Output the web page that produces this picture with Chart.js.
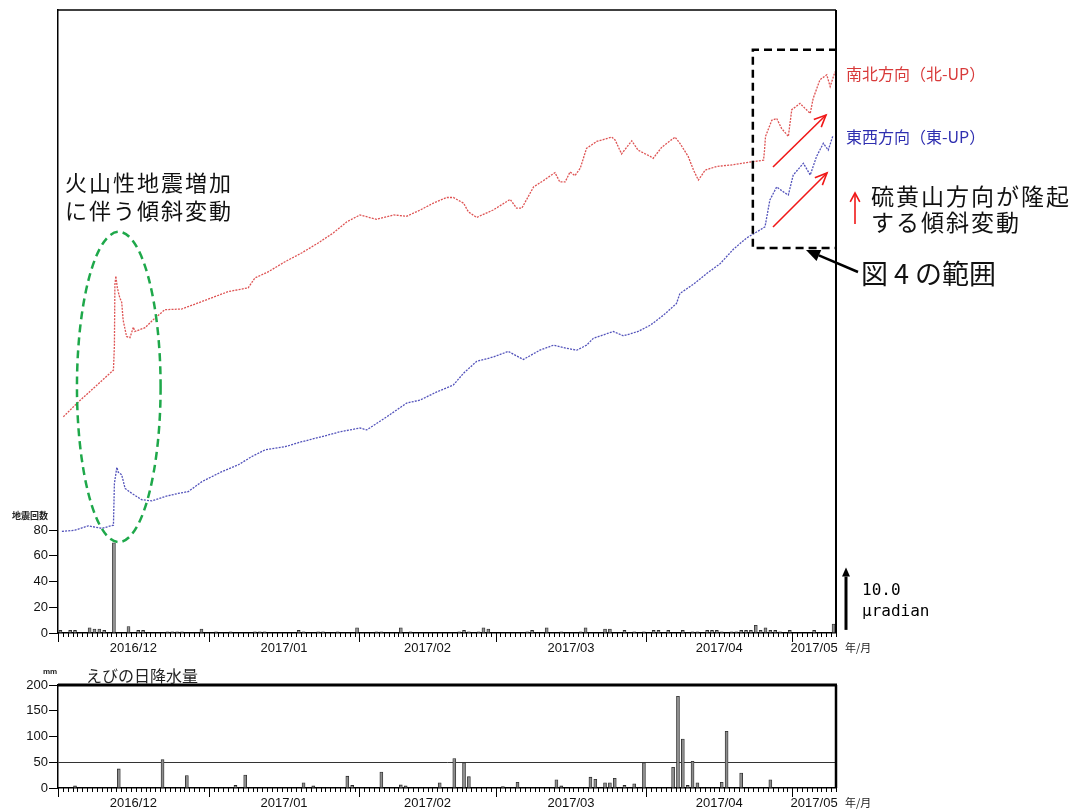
<!DOCTYPE html>
<html lang="ja">
<head>
<meta charset="utf-8">
<title>えびの 傾斜変動と地震回数・日降水量</title>
<script src="https://cdn.jsdelivr.net/npm/chart.js@4.4.1/dist/chart.umd.min.js"></script>
<style>
  html, body { margin: 0; padding: 0; background: #fff; }
  #wrap { position: relative; width: 1078px; height: 812px; overflow: hidden; background: #fff; }
  #tilt { position: absolute; left: 0; top: 0; }
  #rain { position: absolute; left: 0; top: 660px; }
</style>
</head>
<body>
<div id="wrap">
  <canvas id="tilt" width="1078" height="660"></canvas>
  <canvas id="rain" width="1078" height="152"></canvas>
</div>
<script>
// ---- time axis: days counted from 2016-12-01 ----
const dayCount = 160;
const monthStarts = [0, 31, 62, 90, 121, 151];
const monthLabels = ['2016/12', '2017/01', '2017/02', '2017/03', '2017/04', '2017/05'];

// ---- daily volcanic earthquake counts (2016-12-01 .. 2017-05-09) ----
const quakeCounts = [
  2, 0, 2, 2, 0, 0, 4, 3, 3, 2,
  0, 70, 0, 0, 5, 0, 2, 2, 0, 0,
  0, 0, 1, 1, 1, 1, 0, 0, 0, 3,
  0, 0, 1, 0, 0, 1, 0, 0, 0, 0,
  1, 1, 1, 0, 0, 0, 0, 0, 0, 2,
  1, 0, 0, 1, 1, 0, 0, 1, 0, 0,
  0, 4, 0, 0, 0, 1, 1, 0, 0, 0,
  4, 0, 1, 0, 0, 0, 0, 0, 0, 0,
  0, 0, 1, 2, 1, 0, 1, 4, 3, 0,
  0, 0, 0, 0, 0, 0, 1, 2, 0, 0,
  4, 0, 0, 1, 0, 0, 0, 1, 4, 0,
  0, 0, 3, 3, 0, 0, 2, 0, 1, 0,
  1, 0, 2, 2, 0, 2, 0, 0, 2, 0,
  1, 1, 0, 2, 2, 2, 1, 0, 1, 1,
  2, 2, 2, 6, 2, 4, 2, 2, 1, 0,
  2, 0, 0, 0, 0, 2, 0, 0, 0, 7
];
const quakeTicks = [0, 20, 40, 60, 80];

// ---- daily precipitation at Ebino (mm) ----
const rainfall = [
  0, 0, 0, 4, 0, 0, 0, 0, 0, 0,
  0, 0, 37, 0, 0, 0, 0, 0, 0, 0,
  0, 55, 0, 0, 0, 0, 24, 0, 0, 0,
  0, 0, 0, 0, 0, 0, 5, 0, 25, 0,
  0, 0, 0, 0, 0, 0, 0, 0, 0, 0,
  10, 0, 4, 0, 0, 0, 0, 0, 0, 23,
  5, 0, 0, 0, 0, 0, 31, 0, 0, 0,
  6, 4, 0, 0, 0, 0, 0, 0, 10, 0,
  0, 57, 0, 49, 22, 0, 0, 0, 0, 0,
  0, 3, 0, 0, 11, 0, 0, 0, 0, 0,
  0, 0, 16, 4, 0, 0, 0, 0, 0, 21,
  17, 0, 10, 10, 19, 0, 5, 0, 8, 0,
  49, 0, 0, 0, 0, 0, 40, 178, 95, 5,
  52, 10, 0, 0, 0, 0, 11, 110, 0, 0,
  29, 0, 0, 0, 0, 0, 16, 0, 0, 0,
  0, 0, 0, 0, 0, 0, 0, 0, 0, 0
];
const rainTicks = [0, 50, 100, 150, 200];

// ---- tilt, north-south component (north up), microradian ----
const nsDay = [
  1.1, 4.2, 7.6, 11.4, 11.6, 11.7, 11.9, 12.2, 12.7, 13.1,
  13.4, 14.1, 14.8, 15.5, 15.8, 17.9, 20.0, 22.0, 25.4, 28.2,
  31.6, 35.0, 39.1, 40.5, 43.3, 46.7, 50.1, 53.5, 56.6, 59.4,
  62.1, 65.5, 69.0, 71.7, 74.5, 77.2, 79.9, 81.3, 83.4, 84.4,
  86.1, 89.5, 93.0, 94.3, 95.4, 97.8, 99.8, 102.2, 103.2, 104.3,
  105.3, 106.3, 107.4, 108.7, 110.8, 113.9, 114.6, 115.9, 118.0, 119.3,
  121.8, 122.4, 124.2, 126.9, 127.9, 129.6, 130.7, 131.7, 133.1, 135.5,
  138.2, 141.6, 145.1, 145.3, 145.5, 146.8, 147.8, 148.8, 150.2, 150.9,
  152.6, 154.7, 155.3, 156.7, 158.1, 158.8, 159.8
];
const nsTilt = [
  34.7, 37.1, 39.5, 42.2, 46.2, 55.9, 57.3, 55.4, 53.8, 53.1,
  50.2, 47.6, 47.4, 49.1, 48.4, 49.0, 50.6, 51.9, 52.0, 52.8,
  53.8, 54.8, 55.4, 57.0, 58.0, 59.6, 61.0, 62.6, 64.2, 66.0,
  67.1, 66.4, 67.1, 66.9, 67.9, 69.0, 69.9, 69.9, 69.0, 67.6,
  66.7, 67.9, 69.6, 68.2, 68.2, 71.6, 72.6, 73.9, 72.4, 72.4,
  74.0, 73.4, 74.6, 77.8, 78.9, 79.6, 79.1, 76.9, 79.0, 77.5,
  76.5, 76.2, 78.0, 79.6, 78.6, 76.5, 74.3, 72.7, 74.3, 74.9,
  75.1, 75.5, 75.9, 77.5, 79.7, 82.3, 82.6, 81.0, 79.7, 84.0,
  85.0, 83.4, 85.8, 88.8, 89.6, 87.7, 90.1
];

// ---- tilt, east-west component (east up), microradian ----
const ewDay = [
  0.8, 3.5, 6.2, 9.0, 11.4, 11.6, 12.1, 12.4, 13.1, 13.8,
  15.2, 17.2, 19.3, 22.0, 24.7, 26.8, 29.6, 33.7, 37.1, 39.8,
  42.6, 46.7, 50.1, 54.2, 58.0, 62.1, 63.5, 67.6, 71.7, 74.5,
  77.9, 81.3, 83.4, 86.1, 89.5, 92.6, 95.7, 99.1, 101.9, 104.6,
  106.7, 108.7, 110.1, 114.2, 116.3, 119.3, 121.8, 124.5, 127.2, 127.9,
  130.7, 133.4, 136.2, 138.9, 141.6, 144.4, 145.4, 146.4, 147.8, 149.2,
  150.2, 151.2, 153.3, 154.7, 156.0, 157.4, 158.4, 159.4
];
const ewTilt = [
  16.3, 16.5, 17.2, 16.8, 17.3, 24.0, 26.6, 25.8, 25.4, 23.2,
  22.4, 21.4, 21.2, 21.9, 22.4, 22.7, 24.3, 25.9, 27.0, 28.3,
  29.4, 29.9, 30.7, 31.5, 32.3, 32.9, 32.6, 34.7, 36.9, 37.4,
  38.7, 39.8, 41.7, 43.6, 44.3, 45.2, 43.9, 45.4, 46.2, 45.7,
  45.4, 46.2, 47.3, 48.4, 47.7, 48.4, 49.4, 51.0, 52.9, 54.5,
  56.0, 57.7, 59.3, 61.6, 63.4, 64.7, 65.2, 69.5, 71.6, 70.8,
  70.3, 73.5, 75.4, 73.5, 76.5, 78.6, 77.5, 79.9
];

const FONT = '"Liberation Sans", Arial, sans-serif';
const JFONT = '"Noto Sans CJK JP", "Noto Sans", sans-serif';

const monthCenters = monthStarts.map((s, i) => {
  const e = i + 1 < monthStarts.length ? Math.min(monthStarts[i + 1], dayCount) : dayCount;
  return (s + e) / 2;
});

function toPoints(days, vals) {
  return days.map((d, i) => ({ x: d, y: vals[i] }));
}
function dailyBars(vals) {
  return vals.map((v, i) => (v > 0 ? { x: i + 0.5, y: v } : null)).filter(Boolean);
}

function dayAxis(height) {
  return {
    type: 'linear', min: 0, max: dayCount, offset: false,
    grid: { display: false, drawTicks: false },
    border: { display: true, color: '#000', width: 1.5 },
    afterBuildTicks(s) { s.ticks = monthCenters.map(v => ({ value: v })); },
    afterFit(s) { s.height = height; },
    ticks: {
      autoSkip: false, maxRotation: 0, minRotation: 0, padding: 8, color: '#111',
      font: { family: FONT, size: 13 },
      callback: (v, i) => monthLabels[i]
    }
  };
}

function seg(ctx, x1, y1, x2, y2) {
  ctx.beginPath(); ctx.moveTo(x1, y1); ctx.lineTo(x2, y2); ctx.stroke();
}
function openArrow(ctx, x1, y1, x2, y2, len, spread) {
  seg(ctx, x1, y1, x2, y2);
  const ang = Math.atan2(y2 - y1, x2 - x1);
  ctx.beginPath();
  ctx.moveTo(x2 - len * Math.cos(ang - spread), y2 - len * Math.sin(ang - spread));
  ctx.lineTo(x2, y2);
  ctx.lineTo(x2 - len * Math.cos(ang + spread), y2 - len * Math.sin(ang + spread));
  ctx.stroke();
}
function solidArrow(ctx, x1, y1, x2, y2, len, half) {
  const ang = Math.atan2(y2 - y1, x2 - x1);
  const bx = x2 - len * Math.cos(ang), by = y2 - len * Math.sin(ang);
  seg(ctx, x1, y1, bx, by);
  ctx.beginPath();
  ctx.moveTo(x2, y2);
  ctx.lineTo(bx + half * Math.sin(ang), by - half * Math.cos(ang));
  ctx.lineTo(bx - half * Math.sin(ang), by + half * Math.cos(ang));
  ctx.closePath(); ctx.fill();
}
function dayTicks(ctx, x, baseY) {
  ctx.strokeStyle = '#000'; ctx.lineWidth = 1;
  for (let d = 0; d <= dayCount; d++) {
    const px = Math.round(x.getPixelForValue(d)) + 0.5;
    const long = monthStarts.includes(d);
    seg(ctx, px, baseY, px, baseY + (long ? 9 : 4));
  }
}
function spacedText(ctx, text, x, y, spacing) {
  ctx.letterSpacing = spacing + 'px';
  ctx.fillText(text, x, y);
  ctx.letterSpacing = '0px';
}

// ---- upper panel: tilt + earthquake counts ----
const tiltDecor = {
  id: 'tiltDecor',
  afterDraw(chart) {
    const { ctx, chartArea: a, scales: { x, yt, yq } } = chart;
    ctx.save();
    // frame
    ctx.strokeStyle = '#000';
    ctx.lineWidth = 1.5; seg(ctx, a.left, a.top, a.right, a.top);
    ctx.lineWidth = 2; seg(ctx, a.right, a.top, a.right, a.bottom);
    dayTicks(ctx, x, a.bottom);

    // axis captions
    ctx.fillStyle = '#222';
    ctx.font = 'bold 9px ' + JFONT; ctx.textAlign = 'left'; ctx.textBaseline = 'middle';
    ctx.fillText('地震回数', 12, yq.getPixelForValue(80) - 14);
    ctx.font = '11px ' + JFONT;
    ctx.fillText('年/月', a.right + 9, a.bottom + 15);

    // 10 microradian scale arrow
    ctx.fillStyle = '#000'; ctx.strokeStyle = '#000'; ctx.lineWidth = 3;
    solidArrow(ctx, a.right + 10, yt.getPixelForValue(0.5), a.right + 10, yt.getPixelForValue(10.5), 9, 4);
    ctx.font = '16px "DejaVu Sans Mono", monospace'; ctx.textBaseline = 'middle';
    ctx.fillText('10.0', a.right + 26, yt.getPixelForValue(6.7));
    ctx.fillText('\u00b5radian', a.right + 26, yt.getPixelForValue(3.4));

    // component labels
    ctx.font = '16px ' + JFONT;
    ctx.fillStyle = '#d83a3a';
    ctx.fillText('南北方向（北-UP）', a.right + 10, 74);
    ctx.fillStyle = '#2f2fb0';
    ctx.fillText('東西方向（東-UP）', a.right + 10, 137);

    // green ellipse around the December tilt step
    const cx = x.getPixelForValue(12.5), cy = yt.getPixelForValue(39.5);
    const rx = x.getPixelForValue(12.5 + 8.6) - cx, ry = cy - yt.getPixelForValue(39.5 + 24.9);
    ctx.setLineDash([8, 5]); ctx.lineWidth = 2.5; ctx.strokeStyle = '#1ea84a';
    ctx.beginPath(); ctx.ellipse(cx, cy, rx, ry, 0, 0, Math.PI * 2); ctx.stroke();

    // dashed box (range of Fig. 4)
    const bx1 = x.getPixelForValue(142.9), bx2 = a.right + 1;
    const by1 = yt.getPixelForValue(93.6), by2 = yt.getPixelForValue(61.8);
    ctx.setLineDash([8, 5]); ctx.strokeStyle = '#000'; ctx.lineWidth = 2.5;
    ctx.beginPath();
    ctx.moveTo(bx2, by1); ctx.lineTo(bx1, by1); ctx.lineTo(bx1, by2); ctx.lineTo(bx2, by2);
    ctx.stroke();
    ctx.setLineDash([]);

    // pointer to the box
    ctx.lineWidth = 2.5; ctx.fillStyle = '#000';
    solidArrow(ctx, bx2 + 21, by2 + 24, bx2 - 31, by2 + 2, 14, 6);

    // red uplift arrows
    ctx.strokeStyle = '#f01818'; ctx.lineWidth = 1.6;
    openArrow(ctx, 773, 167, 826, 115, 13, 0.42);
    openArrow(ctx, 773, 227, 827, 173, 13, 0.42);
    openArrow(ctx, 855, 224, 855, 193, 10, 0.5);

    // annotation texts
    ctx.fillStyle = '#111'; ctx.textBaseline = 'middle'; ctx.textAlign = 'left';
    ctx.font = '22px ' + JFONT;
    spacedText(ctx, '火山性地震増加', 65, 183, 2);
    spacedText(ctx, 'に伴う傾斜変動', 65, 211, 2);
    ctx.font = '23px ' + JFONT;
    spacedText(ctx, '硫黄山方向が隆起', 871, 196, 2);
    spacedText(ctx, 'する傾斜変動', 871, 222, 2);
    ctx.font = '27px ' + JFONT;
    ctx.fillText('図 4 の範囲', 861, 274);
    ctx.restore();
  }
};

new Chart(document.getElementById('tilt'), {
  type: 'bar',
  data: {
    datasets: [
      {
        type: 'line', label: '南北方向', yAxisID: 'yt', order: 0,
        data: toPoints(nsDay, nsTilt),
        borderColor: 'rgba(214,40,40,0.8)', borderWidth: 1.3, borderDash: [2, 1.2],
        pointRadius: 0, tension: 0, fill: false
      },
      {
        type: 'line', label: '東西方向', yAxisID: 'yt', order: 0,
        data: toPoints(ewDay, ewTilt),
        borderColor: 'rgba(40,40,170,0.8)', borderWidth: 1.3, borderDash: [2, 1.2],
        pointRadius: 0, tension: 0, fill: false
      },
      {
        label: '地震回数', yAxisID: 'yq', order: 1,
        data: dailyBars(quakeCounts),
        backgroundColor: '#929292', borderColor: '#2a2a2a', borderWidth: 0.8,
        barThickness: 3
      }
    ]
  },
  options: {
    responsive: false, animation: false, events: [],
    layout: { padding: { left: 0, right: 242, top: 10, bottom: 0 } },
    plugins: { legend: { display: false }, tooltip: { enabled: false } },
    scales: {
      x: dayAxis(27),
      yq: {
        type: 'linear', position: 'left', min: 0, max: 484,
        afterBuildTicks(s) { s.ticks = quakeTicks.map(v => ({ value: v })); },
        afterFit(s) { s.width = 58; },
        grid: { drawOnChartArea: false, drawTicks: true, tickLength: 9, tickColor: '#000', tickWidth: 1 },
        border: { display: true, color: '#000', width: 1.5 },
        ticks: { padding: 1, color: '#111', font: { family: FONT, size: 13 } }
      },
      yt: { type: 'linear', display: false, min: 0, max: 100 }
    }
  },
  plugins: [tiltDecor]
});

// ---- lower panel: daily precipitation ----
const rainDecor = {
  id: 'rainDecor',
  afterDraw(chart) {
    const { ctx, chartArea: a, scales: { x, y } } = chart;
    ctx.save();
    ctx.strokeStyle = '#000';
    ctx.lineWidth = 3; seg(ctx, a.left, a.top, a.right + 1, a.top);
    ctx.lineWidth = 2.5; seg(ctx, a.right, a.top, a.right, a.bottom);
    dayTicks(ctx, x, a.bottom);
    ctx.fillStyle = '#222'; ctx.textAlign = 'left'; ctx.textBaseline = 'middle';
    ctx.font = 'bold 8px ' + FONT;
    ctx.fillText('mm', 43, a.top - 13);
    ctx.font = '16px ' + JFONT;
    ctx.fillText('えびの日降水量', 86, a.top - 9);
    ctx.font = '11px ' + JFONT;
    ctx.fillText('年/月', a.right + 9, a.bottom + 15);
    ctx.restore();
  }
};

new Chart(document.getElementById('rain'), {
  type: 'bar',
  data: {
    datasets: [{
      label: 'えびの日降水量',
      data: dailyBars(rainfall),
      backgroundColor: '#8e8e8e', borderColor: '#2a2a2a', borderWidth: 0.8,
      barThickness: 3
    }]
  },
  options: {
    responsive: false, animation: false, events: [],
    layout: { padding: { left: 0, right: 242, top: 25, bottom: 0 } },
    plugins: { legend: { display: false }, tooltip: { enabled: false } },
    scales: {
      x: dayAxis(24),
      y: {
        type: 'linear', position: 'left', min: 0, max: 200,
        afterBuildTicks(s) { s.ticks = rainTicks.map(v => ({ value: v })); },
        afterFit(s) { s.width = 58; },
        grid: {
          drawOnChartArea: true, drawTicks: true, tickLength: 9, tickColor: '#000', tickWidth: 1,
          color: c => (c.tick && c.tick.value === 50 ? '#333' : 'rgba(0,0,0,0)'), lineWidth: 1
        },
        border: { display: true, color: '#000', width: 1.5 },
        ticks: { padding: 1, color: '#111', font: { family: FONT, size: 13 } }
      }
    }
  },
  plugins: [rainDecor]
});
</script>
</body>
</html>
